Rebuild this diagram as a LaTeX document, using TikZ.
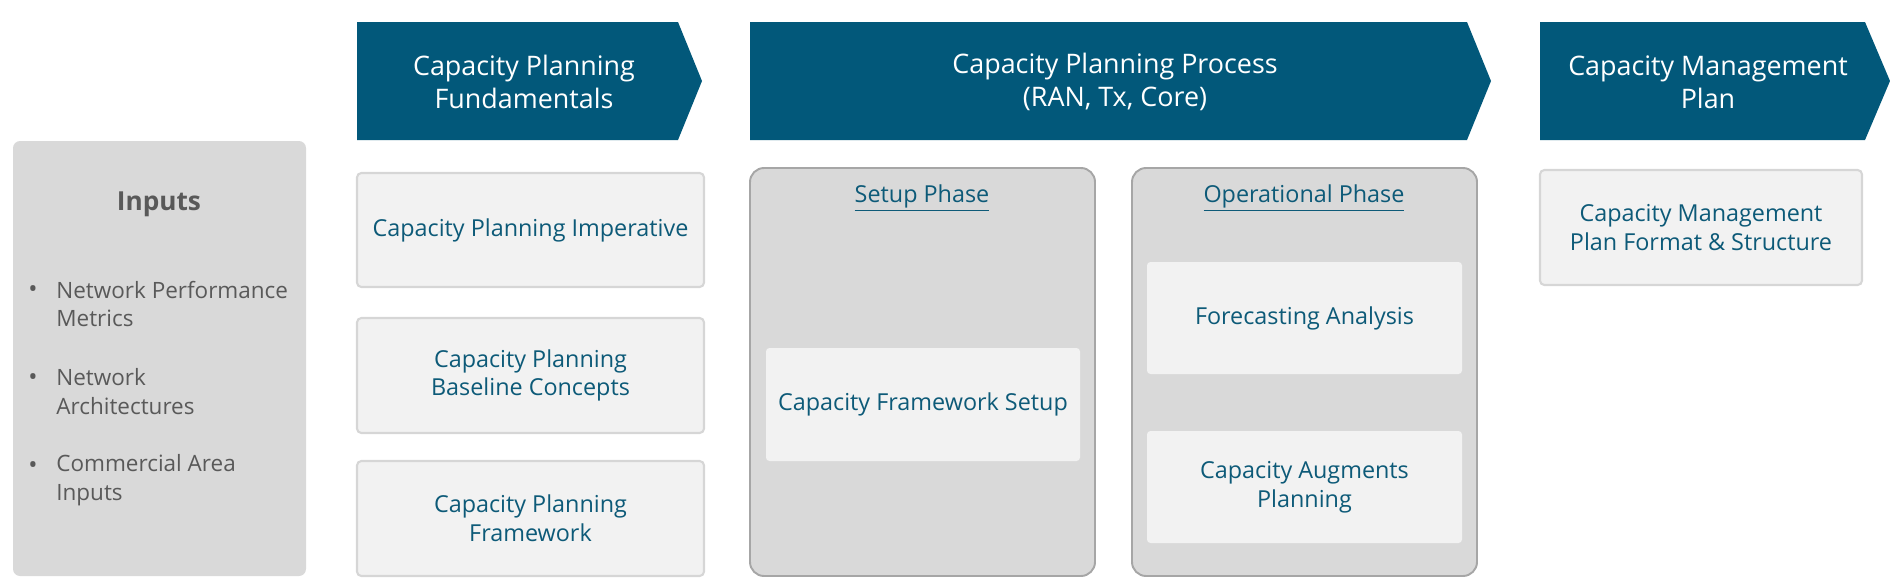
\documentclass[tikz,border=0pt]{standalone}
\usepackage{fontspec}
\setmainfont{Open Sans}
\usepackage{tikz}
\usetikzlibrary{fit}
\definecolor{head}{HTML}{02587A}
\definecolor{ink}{HTML}{0D5A78}
\definecolor{grey}{HTML}{595959}
\definecolor{panel}{HTML}{D9D9D9}
\definecolor{paper}{HTML}{F2F2F2}
\definecolor{edge}{HTML}{D6D6D6}
\definecolor{rim}{HTML}{A6A6A6}
\tikzset{
  hdr/.style={fill=head},
  hdrtxt/.style={text=white, align=center, font=\fontsize{15.3}{18.7}\selectfont},
  cardbox/.style={fill=paper, draw=edge, line width=1.2pt, rounded corners=2.5pt, inner sep=0pt},
  innerbox/.style={fill=paper, rounded corners=2pt, inner sep=0pt},
  boxtxt/.style={text=ink, align=center, font=\fontsize{13.3}{16.4}\selectfont},
  phase/.style={fill=panel, draw=rim, line width=1.1pt, rounded corners=8pt, inner sep=0pt},
  phasetit/.style={text=ink, font=\fontsize{13.3}{16.4}\selectfont},
  inbox/.style={fill=panel, rounded corners=4pt, inner sep=0pt},
  intit/.style={text=grey, font=\bfseries\fontsize{14.9}{18}\selectfont},
  inptxt/.style={text=grey, align=left, anchor=west, inner sep=0pt, font=\fontsize{12.8}{16.5}\selectfont},
  dot/.style={text=grey, inner sep=0pt, font=\fontsize{14}{16.5}\selectfont},
}
\begin{document}
\begin{tikzpicture}[x=0.02cm, y=-0.02cm]
  \useasboundingbox (0,0) rectangle (1890,585);
  % header chevrons
  \foreach \l/\s/\t in {357/678/702, 750/1467/1491, 1540/1865/1890}
    \fill[hdr] (\l,22) -- (\s,22) -- (\t,81) -- (\s,140) -- (\l,140) -- cycle;
  \node[hdrtxt] (fund) at (524,82) {Capacity Planning\\Fundamentals};
  \node[hdrtxt] (proc) at (1115,82) {Capacity Planning Process\\(RAN, Tx, Core)};
  \node[hdrtxt] (plan) at (1708,82) {Capacity Management\\Plan};
  % inputs
  \node[inbox, fit={(13,141) (306,576)}] (inp) {};
  \node[intit] (inT) at (159,204) {Inputs};
  \foreach \y/\t [count=\i] in {304/{Network Performance\\Metrics}, 392/{Network\\Architectures}, 480/{Commercial Area\\Inputs}} {
    \node[dot] (b\i) at (33,\y-12) {\textbullet};
    \node[inptxt] (it\i) at (56,\y) {\t};
  }
  % fundamentals
  \node[cardbox, fit={(357,173) (704,287)}] (imp) {};
  \node[cardbox, fit={(357,318) (704,433)}] (base) {};
  \node[cardbox, fit={(357,461) (704,576)}] (frm) {};
  \node[boxtxt] at (imp.center) {Capacity Planning Imperative};
  \node[boxtxt] at (base.center) {Capacity Planning\\Baseline Concepts};
  \node[boxtxt] at (frm.center) {Capacity Planning\\Framework};
  % process
  \node[phase, fit={(750,168) (1095,576)}] (setup) {};
  \node[phase, fit={(1132,168) (1477,576)}] (oper) {};
  \node[phasetit] (setT) at (922,198) {\underline{Setup Phase}};
  \node[phasetit] (opT) at (1304,198) {\underline{Operational Phase}};
  \node[innerbox, fit={(766,348) (1080,461)}] (cfs) {};
  \node[innerbox, fit={(1147,262) (1462,374)}] (fca) {};
  \node[innerbox, fit={(1147,431) (1462,543)}] (aug) {};
  \node[boxtxt] at (cfs.center) {Capacity Framework Setup};
  \node[boxtxt] at (fca.center) {Forecasting Analysis};
  \node[boxtxt] at (aug.center) {Capacity Augments\\Planning};
  % plan
  \node[cardbox, fit={(1540,170) (1862,285)}] (fmt) {};
  \node[boxtxt] at (fmt.center) {Capacity Management\\Plan Format \& Structure};
\end{tikzpicture}
\end{document}
